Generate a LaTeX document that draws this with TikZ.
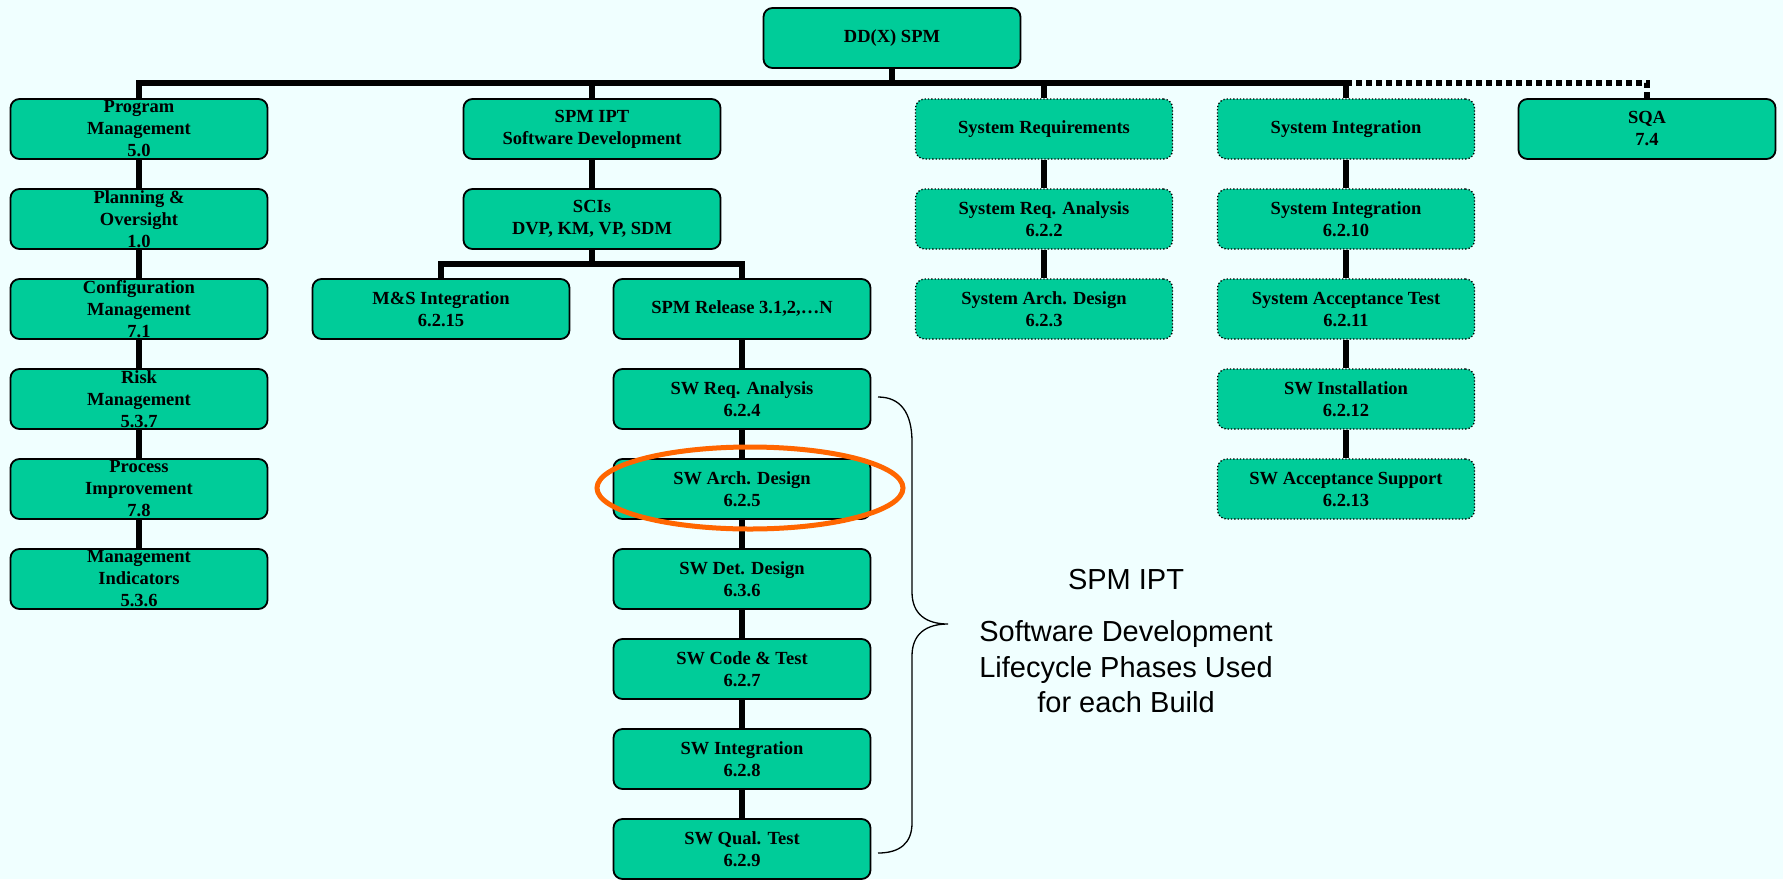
\documentclass[tikz,border=0pt]{standalone}
\usepackage{fontspec}
\setmainfont{Liberation Serif}
\newfontfamily\arialf{Liberation Sans}
\definecolor{bgc}{RGB}{240,255,255}
\definecolor{boxg}{RGB}{0,204,153}
\definecolor{ringc}{RGB}{255,102,0}
\begin{document}
\begin{tikzpicture}[x=1pt,y=-1pt,
  box/.style={draw=black,line width=1.8pt,fill=boxg,rounded corners=9pt,
    minimum width=257pt,minimum height=60pt,inner sep=0pt,align=center,
    font=\fontsize{18.5}{22}\selectfont\bfseries},
  dbox/.style={box,line width=1.3pt,dotted},
  conn/.style={line width=6pt,line join=miter},
  dconn/.style={line width=6pt,dash pattern=on 6pt off 4pt},
  brace/.style={line width=1.3pt},
  ring/.style={draw=ringc,line width=5pt},
  lbl/.style={font=\arialf\fontsize{29}{35.5}\selectfont,align=center}]
\useasboundingbox (0,0) rectangle (1783,879);
\fill[bgc] (0,0) rectangle (1783,879);

% nodes
\node[box] (dd) at (892,38) {DD(X) SPM};
\node[box] (pm) at (139,129) {Program\\Management\\5.0};
\node[box] (po) at (139,219) {Planning \&\\Oversight\\1.0};
\node[box] (cm) at (139,309) {Configuration\\Management\\7.1};
\node[box] (rm) at (139,399) {Risk\\Management\\5.3.7};
\node[box] (pi) at (139,489) {Process\\Improvement\\7.8};
\node[box] (mi) at (139,579) {Management\\Indicators\\5.3.6};

\node[box] (spm) at (592,129) {SPM IPT\\Software Development};
\node[box] (sci) at (592,219) {SCIs\\DVP, KM, VP, SDM};
\node[box] (ms) at (441,309) {M\&S Integration\\6.2.15};
\node[box] (rel) at (742,309) {SPM Release 3.1,2,\ldots N};
\node[box] (req) at (742,399) {SW Req. Analysis\\6.2.4};
\node[box] (arch) at (742,489) {SW Arch. Design\\6.2.5};
\node[box] (det) at (742,579) {SW Det. Design\\6.3.6};
\node[box] (code) at (742,669) {SW Code \& Test\\6.2.7};
\node[box] (integ) at (742,759) {SW Integration\\6.2.8};
\node[box] (qual) at (742,849) {SW Qual. Test\\6.2.9};

\node[dbox] (sr) at (1044,129) {System Requirements};
\node[dbox] (sra) at (1044,219) {System Req. Analysis\\6.2.2};
\node[dbox] (sad) at (1044,309) {System Arch. Design\\6.2.3};

\node[dbox] (si) at (1346,129) {System Integration};
\node[dbox] (si2) at (1346,219) {System Integration\\6.2.10};
\node[dbox] (sat) at (1346,309) {System Acceptance Test\\6.2.11};
\node[dbox] (inst) at (1346,399) {SW Installation\\6.2.12};
\node[dbox] (sas) at (1346,489) {SW Acceptance Support\\6.2.13};

\node[box] (sqa) at (1647,129) {SQA\\7.4};

% connectors
\coordinate (bar) at (892,83);
\coordinate (sbar) at (592,264);
\draw[conn] (dd.south) -- (bar);
\draw[conn] (pm.north) |- (bar -| si.north) -- (si.north);
\draw[conn] (spm.north) -- (spm.north |- bar);
\draw[conn] (sr.north) -- (sr.north |- bar);
\draw[dconn] (si.north |- bar) -| (sqa.north);
\draw[conn] (pm.south) -- (po.north);
\draw[conn] (po.south) -- (cm.north);
\draw[conn] (cm.south) -- (rm.north);
\draw[conn] (rm.south) -- (pi.north);
\draw[conn] (pi.south) -- (mi.north);
\draw[conn] (spm.south) -- (sci.north);
\draw[conn] (sci.south) -- (sbar);
\draw[conn] (ms.north) |- (sbar) -| (rel.north);
\draw[conn] (rel.south) -- (req.north);
\draw[conn] (req.south) -- (arch.north);
\draw[conn] (arch.south) -- (det.north);
\draw[conn] (det.south) -- (code.north);
\draw[conn] (code.south) -- (integ.north);
\draw[conn] (integ.south) -- (qual.north);
\draw[conn] (sr.south) -- (sra.north);
\draw[conn] (sra.south) -- (sad.north);
\draw[conn] (si.south) -- (si2.north);
\draw[conn] (si2.south) -- (sat.north);
\draw[conn] (sat.south) -- (inst.north);
\draw[conn] (inst.south) -- (sas.north);

% brace
\coordinate (btop) at (878,397);
\coordinate (btip) at (948,624);
\coordinate (bbot) at (878,853);
\draw[brace] (btop) .. controls (900,397) and (912,412) .. (912,442)
  -- (912,592) .. controls (912,614) and (926,624) .. (btip)
  .. controls (926,624) and (912,634) .. (912,656)
  -- (912,823) .. controls (912,843) and (900,853) .. (bbot);

% ring
\draw[ring] (750,488) ellipse [x radius=153, y radius=41];

% labels
\node[lbl] (t1) at (1126,580) {SPM IPT};
\node[lbl] (t2) at (1126,667) {Software Development\\Lifecycle Phases Used\\for each Build};
\end{tikzpicture}
\end{document}
